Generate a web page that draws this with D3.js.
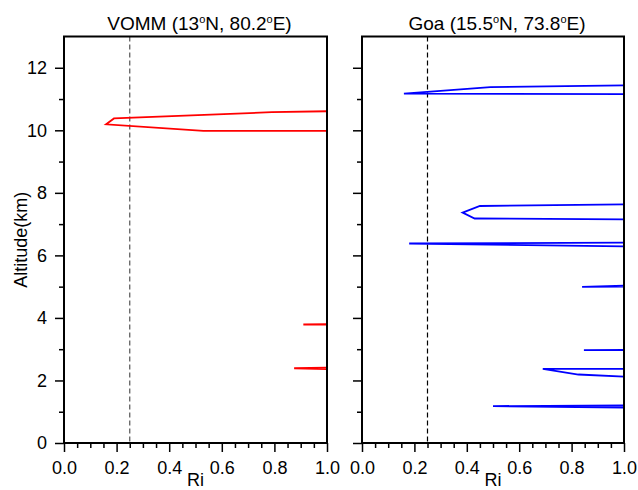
<!DOCTYPE html>
<html lang="en">
<head>
    <meta charset="utf-8" />
    <title>Ri profiles</title>
    <script type="text/javascript" src="https://d3js.org/d3.v7.min.js"></script>
    <style>
        body { margin: 0; background: #fff; }
        text { font-family: "Liberation Sans", Arial, sans-serif; fill: #000; }
    </style>
</head>
<body>
    <script type="text/javascript">

        var w = 638;
        var h = 490;

        // Ri ticks and altitude ticks
        var riTicks = [0.0, 0.2, 0.4, 0.6, 0.8, 1.0];
        var riMinor = [0.05, 0.1, 0.15, 0.25, 0.3, 0.35, 0.45, 0.5, 0.55, 0.65, 0.7, 0.75, 0.85, 0.9, 0.95];
        var altTicks = [0, 2, 4, 6, 8, 10, 12];
        var altMinor = [1, 3, 5, 7, 9, 11];
        var riCritical = 0.25;

        // VOMM (13N, 80.2E) - each segment is a list of [Ri, altitude km]
        var vommSegments = [
            [[1.0, 9.98], [0.53, 9.98], [0.16, 10.19], [0.19, 10.38], [0.79, 10.58], [1.0, 10.61]],
            [[1.0, 3.79], [0.91, 3.79], [1.0, 3.80]],
            [[1.0, 2.41], [0.875, 2.39], [1.0, 2.36]]
        ];

        // Goa (15.5N, 73.8E)
        var goaSegments = [
            [[1.0, 11.16], [0.16, 11.17], [0.49, 11.38], [1.0, 11.44]],
            [[1.0, 7.15], [0.43, 7.18], [0.384, 7.37], [0.45, 7.58], [1.0, 7.63]],
            [[1.0, 6.29], [0.18, 6.38], [1.0, 6.41]],
            [[1.0, 5.03], [0.84, 4.99], [1.0, 5.00]],
            [[1.0, 2.97], [0.847, 2.97], [1.0, 2.98]],
            [[1.0, 2.12], [0.826, 2.19], [0.69, 2.37], [1.0, 2.37]],
            [[1.0, 1.13], [0.5, 1.18], [1.0, 1.20]]
        ];

        var panels = [
            { name: "VOMM (13", lat: "N, 80.2", lon: "E)", segs: vommSegments, color: "#ff0000", x0: 64, x1: 327, dash: "#555", yLabels: true },
            { name: "Goa (15.5", lat: "N, 73.8", lon: "E)", segs: goaSegments, color: "#0000ff", x0: 362, x1: 624, dash: "#000", yLabels: false }
        ];

        var plotTop = 36.5, plotBottom = 443;

        var svg = d3.select("body")
            .append("svg")
            .attr("width", w)
            .attr("height", h);

        var yScale = d3.scaleLinear()
            .domain([0, 13])
            .range([plotBottom, plotTop]);

        panels.forEach(function (p, pi) {
            var xScale = d3.scaleLinear()
                .domain([0, 1])
                .range([p.x0, p.x1]);

            var g = svg.append("g");

            svg.append("clipPath")
                .attr("id", "clip" + pi)
                .append("rect")
                .attr("x", p.x0).attr("y", plotTop)
                .attr("width", p.x1 - p.x0).attr("height", plotBottom - plotTop);

            // critical Ri line
            g.append("line")
                .attr("x1", xScale(riCritical)).attr("x2", xScale(riCritical))
                .attr("y1", plotTop).attr("y2", plotBottom)
                .attr("stroke", p.dash)
                .attr("stroke-width", 1.2)
                .attr("stroke-dasharray", "5,3");

            var line = d3.line()
                .x(function (d) { return xScale(d[0]); })
                .y(function (d) { return yScale(d[1]); });

            g.append("g")
                .attr("clip-path", "url(#clip" + pi + ")")
                .selectAll("path")
                .data(p.segs)
                .enter()
                .append("path")
                .attr("d", line)
                .attr("fill", "none")
                .attr("stroke", p.color)
                .attr("stroke-width", 1.8);

            // x axis
            var xAxis = d3.axisBottom(xScale)
                .tickValues(riTicks)
                .tickSize(9)
                .tickPadding(5)
                .tickFormat(d3.format(".1f"));
            var gx = g.append("g")
                .attr("transform", "translate(0," + plotBottom + ")")
                .call(xAxis);
            gx.select(".domain").remove();
            gx.selectAll("line").attr("stroke-width", 1.5);
            gx.selectAll("text").attr("font-size", "18px").attr("dy", "0.95em");

            var xMinor = d3.axisBottom(xScale)
                .tickValues(riMinor)
                .tickSize(5)
                .tickFormat("");
            var gxm = g.append("g")
                .attr("transform", "translate(0," + plotBottom + ")")
                .call(xMinor);
            gxm.select(".domain").remove();
            gxm.selectAll("line").attr("stroke-width", 1.5);

            // y axis
            var yAxis = d3.axisLeft(yScale)
                .tickValues(altTicks)
                .tickSize(9)
                .tickPadding(8)
                .tickFormat(p.yLabels ? d3.format("d") : "");
            var gy = g.append("g")
                .attr("transform", "translate(" + p.x0 + ",0)")
                .call(yAxis);
            gy.select(".domain").remove();
            gy.selectAll("line").attr("stroke-width", 1.5);
            gy.selectAll("text").attr("font-size", "18px");

            var yMinor = d3.axisLeft(yScale)
                .tickValues(altMinor)
                .tickSize(5)
                .tickFormat("");
            var gym = g.append("g")
                .attr("transform", "translate(" + p.x0 + ",0)")
                .call(yMinor);
            gym.select(".domain").remove();
            gym.selectAll("line").attr("stroke-width", 1.5);

            // frame
            g.append("rect")
                .attr("x", p.x0).attr("y", plotTop)
                .attr("width", p.x1 - p.x0).attr("height", plotBottom - plotTop)
                .attr("fill", "none")
                .attr("stroke", "#000")
                .attr("stroke-width", 2);

            // title with degree marks
            var t = g.append("text")
                .attr("x", (p.x0 + p.x1) / 2 + 4)
                .attr("y", 30)
                .attr("text-anchor", "middle")
                .attr("font-size", "19px");
            t.append("tspan").text(p.name);
            t.append("tspan").attr("dy", -7).attr("font-size", "11px").text("o");
            t.append("tspan").attr("dy", 7).text(p.lat);
            t.append("tspan").attr("dy", -7).attr("font-size", "11px").text("o");
            t.append("tspan").attr("dy", 7).text(p.lon);

            g.append("text")
                .attr("x", (p.x0 + p.x1) / 2)
                .attr("y", 486)
                .attr("text-anchor", "middle")
                .attr("font-size", "18px")
                .text("Ri");
        });

        svg.append("text")
            .attr("transform", "translate(27," + ((plotTop + plotBottom) / 2) + ") rotate(-90)")
            .attr("text-anchor", "middle")
            .attr("font-size", "18px")
            .text("Altitude(km)");

    </script>
</body>
</html>
